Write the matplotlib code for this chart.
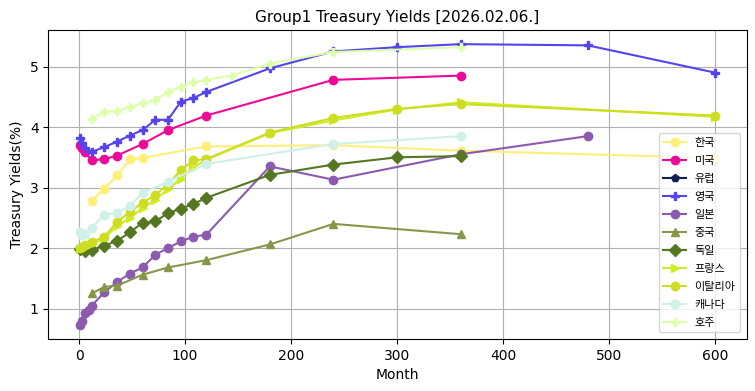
import numpy as np
import pandas as pd
import matplotlib.pyplot as plt

plt.rcParams['font.family'] = ['DejaVu Sans', 'Noto Sans CJK KR']

# 한국
kr_m = [12, 24, 36, 48, 60, 120, 240, 360, 600]
kr_y = [2.78, 2.98, 3.20, 3.47, 3.49, 3.68, 3.70, 3.61, 3.49]
# 미국
us_m = [1, 3, 6, 12, 24, 36, 60, 84, 120, 240, 360]
us_y = [3.70, 3.66, 3.58, 3.45, 3.47, 3.53, 3.72, 3.95, 4.19, 4.78, 4.85]
# 유럽 (no data shown)
eu_m = []
eu_y = []
# 영국
uk_m = [1, 3, 6, 12, 24, 36, 48, 60, 72, 84, 96, 108, 120, 180, 240, 300, 360, 480, 600]
uk_y = [3.82, 3.73, 3.65, 3.59, 3.67, 3.76, 3.86, 3.95, 4.12, 4.12, 4.42, 4.48, 4.58,
        4.97, 5.25, 5.32, 5.37, 5.35, 4.90]
# 일본
jp_m = [1, 3, 6, 9, 12, 24, 36, 48, 60, 72, 84, 96, 108, 120, 180, 240, 360, 480]
jp_y = [0.73, 0.80, 0.92, 0.98, 1.05, 1.27, 1.44, 1.58, 1.68, 1.89, 2.00, 2.11, 2.19, 2.22,
        3.35, 3.13, 3.55, 3.85]
# 중국
cn_m = [12, 24, 36, 60, 84, 120, 180, 240, 360]
cn_y = [1.25, 1.36, 1.38, 1.56, 1.68, 1.80, 2.06, 2.40, 2.23]
# 독일
de_m = [1, 6, 12, 24, 36, 48, 60, 72, 84, 96, 108, 120, 180, 240, 300, 360]
de_y = [1.99, 1.96, 1.97, 2.04, 2.12, 2.26, 2.42, 2.44, 2.58, 2.65, 2.73, 2.83, 3.21, 3.38, 3.50, 3.52]
# 프랑스
fr_m = [1, 3, 6, 12, 24, 36, 48, 60, 72, 84, 96, 108, 120, 180, 240, 300, 360, 600]
fr_y = [1.98, 2.00, 2.03, 2.07, 2.17, 2.36, 2.50, 2.66, 2.80, 2.97, 3.15, 3.33, 3.46,
        3.90, 4.11, 4.29, 4.41, 4.17]
# 이탈리아
it_m = [1, 3, 6, 12, 24, 36, 48, 60, 72, 84, 96, 108, 120, 180, 240, 300, 360, 600]
it_y = [2.00, 2.02, 2.05, 2.10, 2.19, 2.43, 2.60, 2.75, 2.88, 3.05, 3.29, 3.45, 3.47,
        3.91, 4.15, 4.30, 4.38, 4.19]
# 캐나다
ca_m = [1, 3, 6, 12, 24, 36, 48, 60, 84, 120, 240, 360]
ca_y = [2.26, 2.22, 2.24, 2.34, 2.55, 2.58, 2.70, 2.91, 3.10, 3.39, 3.72, 3.85]
# 호주
au_m = [12, 24, 36, 48, 60, 72, 84, 96, 108, 120, 144, 180, 240, 360]
au_y = [4.14, 4.25, 4.27, 4.33, 4.39, 4.45, 4.58, 4.66, 4.74, 4.78, 4.85, 5.05, 5.24, 5.32]

series = [
    ('한국', kr_m, kr_y, '#FFEE77', 'o'),
    ('미국', us_m, us_y, '#EE0A99', 'o'),
    ('유럽', eu_m, eu_y, '#0D1F55', 'p'),
    ('영국', uk_m, uk_y, '#5544EE', 'P'),
    ('일본', jp_m, jp_y, '#8C5BAF', 'o'),
    ('중국', cn_m, cn_y, '#86974A', '^'),
    ('독일', de_m, de_y, '#557722', 'D'),
    ('프랑스', fr_m, fr_y, '#CCEE22', '>'),
    ('이탈리아', it_m, it_y, '#CCDD22', 'o'),
    ('캐나다', ca_m, ca_y, '#D0F0EA', 'o'),
    ('호주', au_m, au_y, '#DDFFAA', 'P'),
]

fig, ax = plt.subplots(figsize=(7.55, 3.91), dpi=100)
for name, m, y, c, mk in series:
    ax.plot(m, y, marker=mk, color=c, label=name, markersize=6)

ax.set_title('Group1 Treasury Yields [2026.02.06.]', fontsize=11)
ax.set_xlabel('Month', fontsize=10)
ax.set_ylabel('Treasury Yields(%)', fontsize=10)
ax.grid(True)
ax.legend(loc='lower right', prop={'family': 'Noto Sans CJK KR', 'size': 8},
          labelspacing=0.72, borderaxespad=0.6)
plt.subplots_adjust(left=0.064, right=0.989, top=0.923, bottom=0.133)
plt.savefig('out.png')
